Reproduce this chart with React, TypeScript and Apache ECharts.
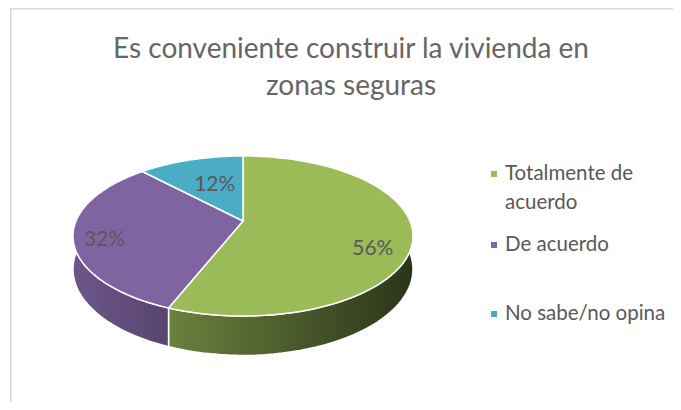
import React, { useEffect, useRef } from "react";
import * as echarts from "echarts";

const title = "Es conveniente construir la vivienda en\nzonas seguras";
const categories = ["Totalmente de acuerdo", "De acuerdo", "No sabe/no opina"];
const legendLabels = ["Totalmente de\nacuerdo", "De acuerdo", "No sabe/no opina"];
const values = [56, 32, 12];
const colors = ["#9BBB59", "#8064A2", "#4BACC6"];

// geometry of the 3D pie (projective ellipse)
const CX = 235;
const CY = 213;
const A = 167;
const B = 77.2;
const E = 0.1875;
const H = 32;
const labelR = [0.77, 0.82, 0.5];
const labelDY = [14, 4, -5];
const FONT = "Lato, 'Open Sans', sans-serif";

const total = values.reduce((s, v) => s + v, 0);
const startFrac = values.map((_, i) => values.slice(0, i).reduce((s, v) => s + v, 0) / total);

function proj(u: number, v: number): [number, number] {
  const w = 1 - E * v;
  return [CX + (A * u) / w, CY + (B * v) / w];
}
function rim(phi: number, r = 1): { p: [number, number]; v: number } {
  const u = Math.sin(phi) * r;
  const v = -Math.cos(phi) * r;
  return { p: proj(u, v), v };
}
function shade(hex: string, f: number) {
  const n = parseInt(hex.slice(1), 16);
  const r = Math.round(((n >> 16) & 255) * f);
  const g = Math.round(((n >> 8) & 255) * f);
  const b = Math.round((n & 255) * f);
  return `rgb(${r},${g},${b})`;
}
function sliceAngles(i: number) {
  const a = startFrac[i] * Math.PI * 2;
  const b = (startFrac[i] + values[i] / total) * Math.PI * 2;
  return [a, b];
}

export default function App() {
  const ref = useRef<HTMLDivElement>(null);
  useEffect(() => {
    if (!ref.current) return;
    document.documentElement.style.overflow = "hidden";
    document.body.style.overflow = "hidden";
    const chart = echarts.init(ref.current, undefined, { renderer: "svg" });
    const data = values.map((v, i) => ({ value: v, name: categories[i] }));

    const renderSide = (params: any) => {
      const i = params.dataIndex;
      const [a, b] = sliceAngles(i);
      const steps = 80;
      const top: [number, number][] = [];
      const bottom: [number, number][] = [];
      for (let k = 0; k <= steps; k++) {
        const phi = a + ((b - a) * k) / steps;
        const { p, v } = rim(phi);
        top.push(p);
        bottom.push([p[0], p[1] + H / (1 - E * v)]);
      }
      const pts = top.concat(bottom.reverse());
      const grad = new echarts.graphic.LinearGradient(
        CX - A * 1.02,
        0,
        CX + A * 1.02,
        0,
        [
          { offset: 0, color: shade(colors[i], 0.85) },
          { offset: 1, color: shade(colors[i], 0.28) },
        ],
        true
      );
      return {
        type: "polygon",
        shape: { points: pts },
        style: { fill: grad, stroke: "#ffffff", lineWidth: 1.5 },
      };
    };

    const renderTop = (params: any) => {
      const i = params.dataIndex;
      const [a, b] = sliceAngles(i);
      const steps = 80;
      const pts: [number, number][] = [proj(0, 0)];
      for (let k = 0; k <= steps; k++) {
        const phi = a + ((b - a) * k) / steps;
        pts.push(rim(phi).p);
      }
      const mid = (a + b) / 2;
      const lp = rim(mid, labelR[i]).p;
      return {
        type: "group",
        children: [
          {
            type: "polygon",
            shape: { points: pts },
            style: { fill: colors[i], stroke: "#ffffff", lineWidth: 1.5, lineJoin: "round" },
          },
          {
            type: "text",
            x: lp[0],
            y: lp[1] + labelDY[i],
            style: {
              text: Math.round((values[i] / total) * 100) + "%",
              fill: "#595959",
              font: `21px ${FONT}`,
              align: "center",
              verticalAlign: "middle",
            },
          },
        ],
      };
    };

    const legendX = 483;
    const legendY = [166, 237, 306];
    const legendGraphics: any[] = [];
    legendLabels.forEach((lab, i) => {
      legendGraphics.push({
        type: "rect",
        shape: { x: legendX, y: legendY[i] - 3, width: 6, height: 6 },
        style: { fill: colors[i] },
      });
      legendGraphics.push({
        type: "text",
        x: legendX + 14,
        y: legendY[i] - 16,
        style: {
          text: lab,
          fill: "#595959",
          font: `20.5px ${FONT}`,
          lineHeight: 28.5,
          verticalAlign: "top",
        },
      });
    });

    chart.setOption({
      animation: false,
      backgroundColor: "#ffffff",
      title: {
        text: title,
        left: 343,
        top: 20,
        textAlign: "center",
        padding: 0,
        textStyle: {
          fontFamily: FONT,
          fontSize: 28,
          fontWeight: "normal",
          color: "#666666",
          lineHeight: 37,
        },
      },
      graphic: [
        {
          type: "line",
          shape: { x1: 2, y1: 0.75, x2: 673, y2: 0.75 },
          style: { stroke: "#D9D9D9", lineWidth: 1.5 },
          silent: true,
        },
        {
          type: "line",
          shape: { x1: 2.75, y1: 0, x2: 2.75, y2: 402 },
          style: { stroke: "#D9D9D9", lineWidth: 1.5 },
          silent: true,
        },
        ...legendGraphics,
      ],
      series: [
        {
          type: "custom",
          name: "side",
          coordinateSystem: "none",
          data,
          renderItem: renderSide,
          silent: true,
          z: 1,
        },
        {
          type: "custom",
          name: "top",
          coordinateSystem: "none",
          data,
          renderItem: renderTop,
          silent: true,
          z: 2,
        },
      ],
    });
    return () => chart.dispose();
  }, []);
  return <div ref={ref} style={{ width: 673, height: 402, marginBottom: -8 }} />;
}
